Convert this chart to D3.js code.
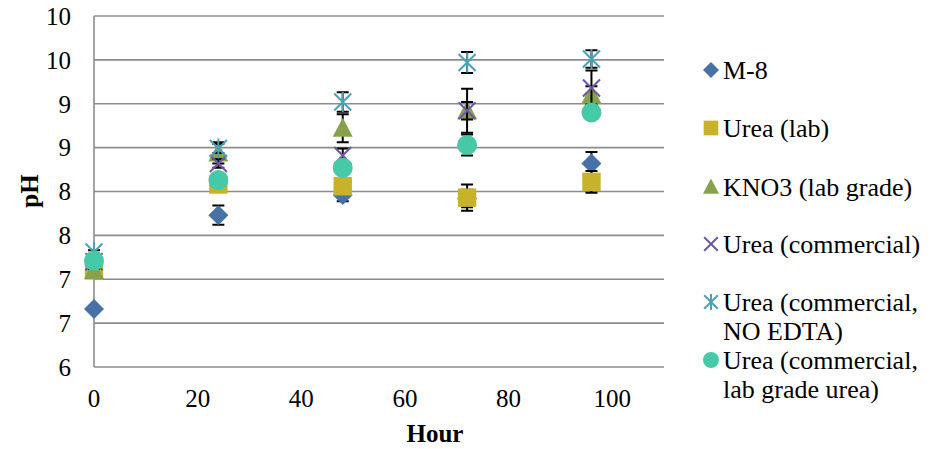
<!DOCTYPE html>
<html>
<head>
<meta charset="utf-8">
<script src="https://cdn.jsdelivr.net/npm/d3@7"></script>
<style>
  html, body { margin: 0; padding: 0; background: #fff; }
  svg text { font-family: "Liberation Serif", "Times New Roman", serif; fill: #000; }
</style>
</head>
<body>
<svg id="chart" width="930" height="449"></svg>
<script>
// ---- data ----
const hours = [0, 24, 48, 72, 96];
const seriesNames = ["M-8", "Urea (lab)", "KNO3 (lab grade)", "Urea (commercial)", "Urea (commercial, NO EDTA)", "Urea (commercial, lab grade urea)"];
const legendLines = [["M-8"], ["Urea (lab)"], ["KNO3 (lab grade)"], ["Urea (commercial)"], ["Urea (commercial,", "NO EDTA)"], ["Urea (commercial,", "lab grade urea)"]];
const m8 = [6.66, 7.73, 7.96, 7.92, 8.32];
const m8Err = [0.02, 0.11, 0.07, 0.10, 0.13];
const ureaLab = [7.10, 8.08, 8.06, 7.93, 8.11];
const ureaLabErr = [0.02, 0.05, 0.05, 0.15, 0.125];
const kno3 = [7.10, 8.44, 8.72, 8.92, 9.10];
const kno3Err = [0.02, 0.12, 0.16, 0.25, 0.10];
const ureaCom = [7.20, 8.32, 8.41, 8.92, 9.18];
const ureaComErr = [0.02, 0.05, 0.08, 0.10, 0.20];
const ureaNoEdta = [7.31, 8.49, 9.02, 9.47, 9.51];
const ureaNoEdtaErr = [0.02, 0.05, 0.11, 0.12, 0.10];
const ureaLabUrea = [7.21, 8.13, 8.27, 8.53, 8.90];
const ureaLabUreaErr = [0.02, 0.05, 0.05, 0.12, 0.05];
const yTicks = [6, 6.5, 7, 7.5, 8, 8.5, 9, 9.5, 10];
const xTicks = [0, 20, 40, 60, 80, 100];

const values = [m8, ureaLab, kno3, ureaCom, ureaNoEdta, ureaLabUrea];
const errors = [m8Err, ureaLabErr, kno3Err, ureaComErr, ureaNoEdtaErr, ureaLabUreaErr];
const shapes = ["diamond", "square", "triangle", "x", "star", "circle"];
const colors = ["#4672a8", "#c8b22a", "#87a24c", "#70589e", "#4aa2b7", "#45c9a6"];

// ---- layout ----
const svg = d3.select("#chart");
const pLeft = 94, pRight = 664, pTop = 16, pBottom = 367;
const x = d3.scaleLinear().domain([0, 110]).range([pLeft, pRight]);
const y = d3.scaleLinear().domain([6, 10]).range([pBottom, pTop]);

// gridlines
svg.append("g").selectAll("line").data(yTicks).join("line")
  .attr("x1", pLeft).attr("x2", pRight)
  .attr("y1", d => y(d)).attr("y2", d => y(d))
  .attr("stroke", "#8c8c8c").attr("stroke-width", 1.6);
// left axis line
svg.append("line").attr("x1", pLeft).attr("x2", pLeft).attr("y1", pTop).attr("y2", pBottom)
  .attr("stroke", "#8c8c8c").attr("stroke-width", 1.6);

// y tick labels (Excel rounding of half values)
svg.append("g").selectAll("text").data(yTicks).join("text")
  .attr("x", 71).attr("y", d => y(d)).attr("dy", "0.35em")
  .attr("text-anchor", "end").attr("font-size", 25)
  .text(d => d3.format(".0f")(d + 1e-9));

// x tick labels
svg.append("g").selectAll("text").data(xTicks).join("text")
  .attr("x", d => x(d)).attr("y", 407)
  .attr("text-anchor", "middle").attr("font-size", 25)
  .text(d => d);

// axis titles
svg.append("text").attr("x", 435).attr("y", 442).attr("text-anchor", "middle")
  .attr("font-size", 25).attr("font-weight", "bold").text("Hour");
svg.append("text").attr("transform", "translate(38,191) rotate(-90)")
  .attr("text-anchor", "middle").attr("font-size", 25).attr("font-weight", "bold").text("pH");

// marker drawing
function marker(g, shape, color, cx, cy, s) {
  const h = s / 2;
  if (shape === "diamond") {
    g.append("path").attr("d", `M${cx},${cy - h}L${cx + h},${cy}L${cx},${cy + h}L${cx - h},${cy}Z`)
      .attr("fill", color);
  } else if (shape === "square") {
    const q = h * 0.92;
    g.append("rect").attr("x", cx - q).attr("y", cy - q).attr("width", 2 * q).attr("height", 2 * q)
      .attr("fill", color);
  } else if (shape === "triangle") {
    g.append("path").attr("d", `M${cx},${cy - h * 1.05}L${cx + h},${cy + h * 0.85}L${cx - h},${cy + h * 0.85}Z`)
      .attr("fill", color);
  } else if (shape === "circle") {
    g.append("circle").attr("cx", cx).attr("cy", cy).attr("r", h).attr("fill", color);
  } else if (shape === "x") {
    const q = h * 0.85;
    g.append("path").attr("d", `M${cx - q},${cy - q}L${cx + q},${cy + q}M${cx + q},${cy - q}L${cx - q},${cy + q}`)
      .attr("stroke", color).attr("stroke-width", 2).attr("fill", "none");
  } else if (shape === "star") {
    const q = h * 0.85;
    g.append("path").attr("d", `M${cx - q},${cy - q}L${cx + q},${cy + q}M${cx + q},${cy - q}L${cx - q},${cy + q}M${cx},${cy - h}L${cx},${cy + h}`)
      .attr("stroke", color).attr("stroke-width", 2).attr("fill", "none");
  }
}

// series: error bars then markers
values.forEach((vals, si) => {
  const g = svg.append("g");
  hours.forEach((hr, i) => {
    const e = errors[si][i];
    const cx = x(hr), y1 = y(vals[i] + e), y2 = y(vals[i] - e);
    g.append("path")
      .attr("d", `M${cx},${y1}L${cx},${y2}M${cx - 6},${y1}L${cx + 6},${y1}M${cx - 6},${y2}L${cx + 6},${y2}`)
      .attr("stroke", "#000").attr("stroke-width", 2).attr("fill", "none");
  });
  hours.forEach((hr, i) => marker(g, shapes[si], colors[si], x(hr), y(vals[i]), 20));
});

// legend
const legendY = [70, 128, 187, 244, 302, 360];
seriesNames.forEach((name, si) => {
  const g = svg.append("g");
  marker(g, shapes[si], colors[si], 711, legendY[si], 16);
  legendLines[si].forEach((ln, li) => {
    g.append("text").attr("x", 723).attr("y", legendY[si] + li * 29).attr("dy", "0.35em")
      .attr("font-size", 26).text(ln);
  });
});
</script>
</body>
</html>
